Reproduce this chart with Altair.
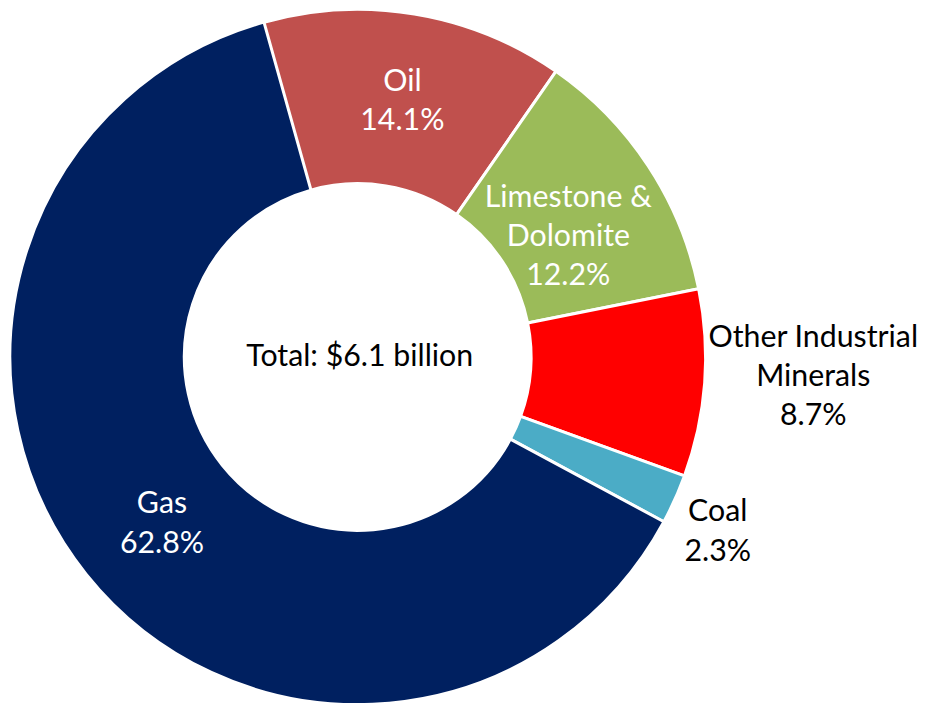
import math
import altair as alt
import pandas as pd

# ---- data ----
categories = ["Oil", "Limestone & Dolomite", "Other Industrial Minerals", "Coal", "Gas"]
shares = [14.1, 12.2, 8.7, 2.3, 62.8]
labels = ["Oil\n14.1%", "Limestone &\nDolomite\n12.2%", "Other Industrial\nMinerals\n8.7%",
          "Coal\n2.3%", "Gas\n62.8%"]
slice_colors = ["#C0504D", "#9BBB59", "#FF0000", "#4BACC6", "#002060"]
label_colors = ["white", "white", "black", "black", "white"]
total_text = "Total: $6.1 billion"

# ---- layout (label placement, not data) ----
label_radius = {"Oil": 261, "Limestone & Dolomite": 244, "Other Industrial Minerals": 459,
                "Coal": 403, "Gas": 259}
label_nudge = {"Oil": 0.15, "Limestone & Dolomite": 1.0, "Other Industrial Minerals": -0.5,
               "Coal": 0.5, "Gas": -0.5}
FONT = "Lato"
FS = 30.5
LH = 39.5

df = pd.DataFrame({
    "category": categories,
    "share": shares,
    "order": list(range(len(categories))),
    "label": labels,
    "nlines": [lab.count("\n") + 1 for lab in labels],
    "color": slice_colors,
    "tcolor": label_colors,
    "lr": [label_radius[c] for c in categories],
    "nudge": [label_nudge[c] for c in categories],
})

a0 = math.radians(-16)
theta_scale = alt.Scale(domain=[0, 100], range=[a0, a0 + 2 * math.pi])

base = alt.Chart(df).transform_window(
    cum="sum(share)", sort=[alt.SortField("order")], frame=[None, 0]
).transform_calculate(
    start="datum.cum - datum.share",
    mid="datum.cum - datum.share / 2 + datum.nudge",
)

arcs = base.mark_arc(outerRadius=350, innerRadius=174.5, stroke="white", strokeWidth=3).encode(
    theta=alt.Theta("start:Q", scale=theta_scale, stack=None),
    theta2="cum:Q",
    color=alt.Color("color:N", scale=None),
)


def label_layer(n):
    return base.transform_filter(f"datum.nlines == {n}").mark_text(
        font=FONT, fontSize=FS, lineBreak="\n", lineHeight=LH, dy=-(n - 1) * LH / 2
    ).encode(
        theta=alt.Theta("mid:Q", scale=theta_scale, stack=None),
        radius=alt.Radius("lr:Q", scale=None),
        text="label:N",
        color=alt.Color("tcolor:N", scale=None),
    )


center = alt.Chart(pd.DataFrame({"t": [total_text]})).mark_text(
    font=FONT, fontSize=FS, color="black", dx=2
).encode(text="t:N")

chart = alt.layer(arcs, label_layer(2), label_layer(3), center).properties(
    width=704, height=698,
    autosize=alt.AutoSizeParams(type="none"),
    padding={"left": 0, "top": 0, "right": 213, "bottom": 0},
).configure_view(stroke=None)

chart.save("out.html", embed_options={"renderer": "svg", "actions": False})
